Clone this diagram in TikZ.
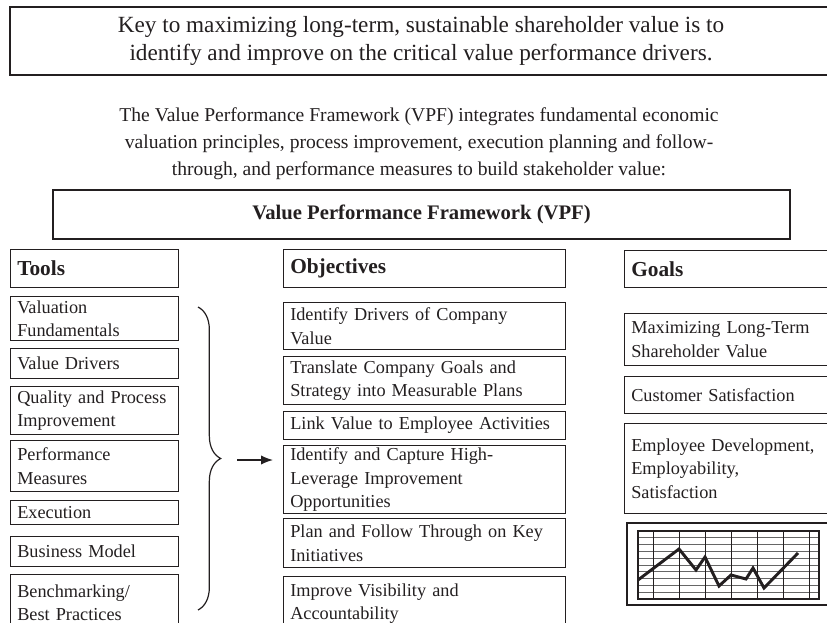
\documentclass[tikz,border=0pt]{standalone}
\usepackage{fontspec}
\setmainfont{Liberation Serif}
\usepackage{tikz}
\usetikzlibrary{arrows.meta,positioning,decorations.pathreplacing}
\definecolor{vpfink}{RGB}{35,31,32}

\begin{document}
\begin{tikzpicture}[x=0.75pt, y=-0.75pt,
  box/.style={draw=vpfink, line width=0.9pt, anchor=north west, align=left, inner xsep=5pt, inner ysep=0pt, text=vpfink, font=\fontsize{13.7}{17.5}\selectfont},
  head/.style={font=\fontsize{16}{18}\selectfont\bfseries},
  toolbox/.style={box, minimum width=126pt, text width=116pt},
  objbox/.style={box, minimum width=211.5pt, text width=201.5pt},
  goalbox/.style={box, minimum width=165pt, text width=155pt},
  txt/.style={align=center, text=vpfink}
]
\useasboundingbox (0,0) rectangle (827,623);
\clip (0,0) rectangle (827,623);

\draw[vpfink, line width=0.9pt] (10,7) rectangle (845,75);
\node[txt, font=\fontsize{17.4}{21}\selectfont] (key) at (421,41) {Key to maximizing long-term, sustainable shareholder value is to\\identify and improve on the critical value performance drivers.};
\node[txt, font=\fontsize{14.7}{20.2}\selectfont] (intro) at (419,144) {The Value Performance Framework (VPF) integrates fundamental economic\\valuation principles, process improvement, execution planning and follow-\\through, and performance measures to build stakeholder value:};

\node[box, anchor=center, align=center, minimum width=552.75pt, minimum height=36.75pt, font=\fontsize{15.5}{18}\selectfont\bfseries] (vpf) at (421.5,214.5) {Value Performance Framework (VPF)};

\node[toolbox, head, minimum height=28.5pt] (tools) at (10,249) {Tools};
\node[objbox, head, minimum height=28.5pt] (objs) at (283,249) {Objectives};
\node[goalbox, head, minimum height=27.75pt] (goals) at (624,250) {Goals};

\foreach \i/\t/\b/\w in {1/296/340/{Valuation\\Fundamentals},2/348/378/Value Drivers,3/386/434/{Quality and Process\\Improvement},4/440/491/{Performance\\Measures},5/500/524/Execution,6/536/566/Business Model,7/574/630/{Benchmarking/\\Best Practices}}
  \node[toolbox, minimum height={(\b-\t)*0.75pt}] (tool\i) at (10,\t) {\w};

\foreach \i/\t/\b/\w in {1/302/349/{Identify Drivers of Company\\Value},2/356/404/{Translate Company Goals and\\Strategy into Measurable Plans},3/411/439/Link Value to Employee Activities,4/445/513/{Identify and Capture High-\\Leverage Improvement\\Opportunities},5/518/567/{Plan and Follow Through on Key\\Initiatives},6/576/630/{Improve Visibility and\\Accountability}}
  \node[objbox, minimum height={(\b-\t)*0.75pt}] (obj\i) at (283,\t) {\w};

\foreach \i/\t/\b/\w in {1/313/365/{Maximizing Long-Term\\Shareholder Value},2/376/413/Customer Satisfaction,3/423/513/{Employee Development,\\Employability,\\Satisfaction}}
  \node[goalbox, minimum height={(\b-\t)*0.75pt}] (goal\i) at (624,\t) {\w};

\coordinate (brtop) at (198,307);
\coordinate (brbot) at (198,610);
\draw[vpfink, line width=0.9pt, decorate, decoration={brace, amplitude=17pt}] (brtop) -- (brbot);
\coordinate (arrs) at (237,460);
\coordinate (arre) at (273,460);
\draw[vpfink, line width=1pt, -{Latex[length=9pt,width=7pt]}] (arrs) -- (arre);

\draw[vpfink, line width=2.2pt] (627,523) rectangle (845,605);
\foreach \k in {1,...,9}
  \draw[black!60, line width=0.6pt] (638,{531+\k*6.8}) -- (819,{531+\k*6.8});
\foreach \x in {653,679,...,809}
  \draw[vpfink, line width=0.6pt] (\x,531) -- (\x,599);
\draw[vpfink, line width=0.8pt] (638,531) rectangle (819,599);
\draw[vpfink, line width=2.2pt] (638,580) -- (679,549) -- (696,570) -- (705,557) -- (719,586) -- (731,575) -- (746,579) -- (753,568) -- (764,588) -- (798,553);
\end{tikzpicture}
\end{document}
